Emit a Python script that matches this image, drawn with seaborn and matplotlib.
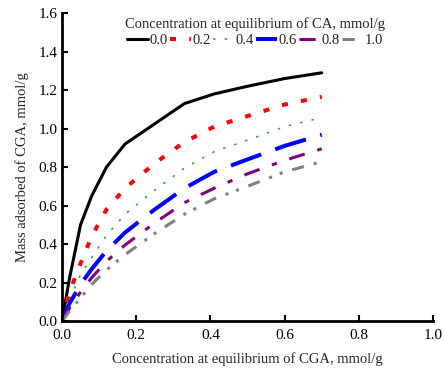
import matplotlib
matplotlib.use("Agg")
import matplotlib.pyplot as plt
import seaborn as sns
import pandas as pd

sns.set_theme(style="white")
plt.rcParams['font.family'] = ['Liberation Serif', 'DejaVu Serif']

x = [0.0, 0.02, 0.05, 0.08, 0.12, 0.17, 0.25, 0.33, 0.41, 0.5, 0.6, 0.7]
x_black = [0.0, 0.02, 0.05, 0.08, 0.12, 0.17, 0.33, 0.41, 0.5, 0.6, 0.7]
y_00 = [0.0, 0.22, 0.50, 0.65, 0.80, 0.92, 1.13, 1.18, 1.22, 1.26, 1.29]
y_02 = [0.0, 0.15, 0.30, 0.44, 0.58, 0.69, 0.82, 0.93, 1.01, 1.065, 1.125, 1.165]
y_04 = [0.0, 0.11, 0.24, 0.33, 0.445, 0.555, 0.68, 0.795, 0.88, 0.94, 1.01, 1.057]
y_06 = [0.0, 0.09, 0.19, 0.27, 0.365, 0.46, 0.58, 0.69, 0.775, 0.84, 0.91, 0.968]
y_08 = [0.0, 0.065, 0.15, 0.225, 0.31, 0.395, 0.51, 0.615, 0.69, 0.765, 0.835, 0.895]
y_10 = [0.0, 0.05, 0.12, 0.19, 0.265, 0.345, 0.455, 0.555, 0.635, 0.70, 0.775, 0.828]
labels = ["0.0", "0.2", "0.4", "0.6", "0.8", "1.0"]

series = [
    (x_black, y_00, "black", "-", 2.2),
    (x, y_02, "red", (0, (1.5, 3.3)), 2.9),
    (x, y_04, "#2ca02c", (0, (1.6, 6.0)), 1.1),
    (x, y_06, "blue", (0, (8, 3.7)), 2.9),
    (x, y_08, "purple", (0, (5.3, 4.3, 1.7, 4.3)), 2.2),
    (x, y_10, "gray", (0, (4, 3.3, 1, 2.7, 1, 3.3)), 2.2),
]

fig = plt.figure(figsize=(4.46, 3.75), dpi=100)
ax = fig.add_axes([0.139, 0.144, 0.832, 0.821])

for (xs, ys, c, ls, lw), lab in zip(series, labels):
    df = pd.DataFrame({"x": xs, "y": ys})
    sns.lineplot(data=df, x="x", y="y", ax=ax, color=c, linestyle=ls, lw=lw,
                 label=lab, sort=False, estimator=None)

ax.set_xlim(0, 1.0)
ax.set_ylim(0, 1.6)
ax.set_xticks([0.0, 0.2, 0.4, 0.6, 0.8, 1.0])
ax.set_yticks([0.0, 0.2, 0.4, 0.6, 0.8, 1.0, 1.2, 1.4, 1.6])
ax.set_xticklabels([f"{v:.1f}" for v in ax.get_xticks()])
ax.set_yticklabels([f"{v:.1f}" for v in ax.get_yticks()])
ax.tick_params(direction="in", length=4, width=1.5, labelsize=11, colors="black",
               left=True, bottom=True)
ax.tick_params(axis="x", pad=6)
ax.tick_params(axis="y", pad=3)
for s in ["top", "right"]:
    ax.spines[s].set_visible(False)
for s in ["left", "bottom"]:
    ax.spines[s].set_color("black")
    ax.spines[s].set_linewidth(2)
ax.set_xlabel("Concentration at equilibrium of CGA, mmol/g", fontsize=10.5, labelpad=7)
ax.set_ylabel("Mass adsorbed of CGA, mmol/g", fontsize=10.5, labelpad=7)

leg = ax.legend(title="Concentration at equilibrium of CA, mmol/g", ncol=6,
                loc="upper center", bbox_to_anchor=(0.52, 1.02), frameon=False,
                fontsize=10.5, title_fontsize=10.5, handlelength=1.4,
                handletextpad=0.1, columnspacing=0.2, borderpad=0.2,
                labelspacing=0.2)

fig.savefig("out.png", dpi=100)
